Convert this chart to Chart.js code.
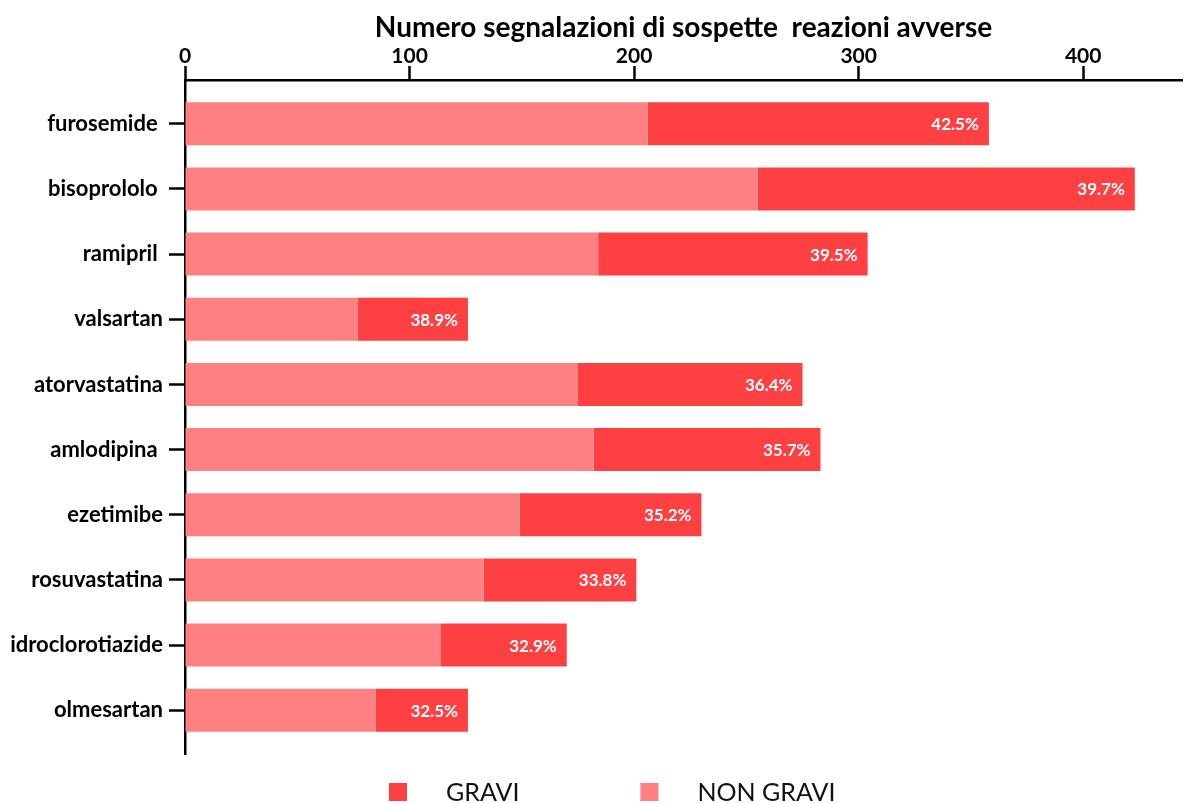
<!DOCTYPE html>
<html>
<head>
<meta charset="utf-8">
<script src="https://cdn.jsdelivr.net/npm/chart.js@4.4.1/dist/chart.umd.min.js"></script>
<style>
  html, body { margin: 0; padding: 0; background: #fff; }
  #wrap { width: 1184px; height: 803px; }
</style>
</head>
<body>
<div id="wrap"><canvas id="c" width="1184" height="803"></canvas></div>
<script>
// Farmaci e numero di segnalazioni (non gravi / gravi)
const farmaci = ['furosemide ', 'bisoprololo ', 'ramipril ', 'valsartan', 'atorvastatina',
                 'amlodipina ', 'ezetimibe', 'rosuvastatina', 'idroclorotiazide', 'olmesartan'];
const nonGravi = [206, 255, 184, 77, 175, 182, 149, 133, 114, 85];
const gravi    = [152, 168, 120, 49, 100, 101, 81, 68, 56, 41];
const xTicks = [0, 100, 200, 300, 400];
const xMax = 444;
const nomiSerie = ['NON GRAVI', 'GRAVI'];
const titoloAsse = 'Numero segnalazioni di sospette  reazioni avverse';

const COL_NON_GRAVI = '#ff8080';
const COL_GRAVI = '#ff4043';
const FONT = 'Lato';

// Extra room above the first and below the last category (fraction of a category)
const edgePad = {
  id: 'edgePad',
  afterLayout(chart) {
    const s = chart.scales.y;
    const pad = 0.172;
    s._startValue -= pad;
    s._valueRange += 2 * pad;
  }
};

// Percentage of serious reports, written inside the end of each bar
const pctLabels = {
  id: 'pctLabels',
  afterDatasetsDraw(chart) {
    const ctx = chart.ctx;
    const meta = chart.getDatasetMeta(1);
    ctx.save();
    ctx.font = 'bold 17px ' + FONT;
    ctx.fillStyle = '#ffffff';
    ctx.textAlign = 'right';
    ctx.textBaseline = 'middle';
    meta.data.forEach((bar, i) => {
      const tot = nonGravi[i] + gravi[i];
      const txt = (gravi[i] / tot * 100).toFixed(1) + '%';
      ctx.fillText(txt, bar.x - 10, bar.y + 1);
    });
    ctx.restore();
  }
};

// Legend below the plot: GRAVI first, then NON GRAVI
const legendBottom = {
  id: 'legendBottom',
  afterDraw(chart) {
    const ctx = chart.ctx;
    const items = [1, 0].map(i => chart.data.datasets[i]);
    ctx.save();
    ctx.font = '25px ' + FONT;
    ctx.textBaseline = 'alphabetic';
    ctx.textAlign = 'left';
    const box = 18, gap = 39, itemGap = 121, base = 801;
    let x = 389;
    items.forEach(ds => {
      ctx.fillStyle = ds.backgroundColor;
      ctx.fillRect(x, base - 18, box, box);
      x += box + gap;
      ctx.fillStyle = '#111';
      ctx.fillText(ds.label, x, base);
      x += ctx.measureText(ds.label).width + itemGap;
    });
    ctx.restore();
  }
};

new Chart(document.getElementById('c'), {
  type: 'bar',
  data: {
    labels: farmaci,
    datasets: [
      { label: nomiSerie[0], data: nonGravi, backgroundColor: COL_NON_GRAVI },
      { label: nomiSerie[1], data: gravi, backgroundColor: COL_GRAVI }
    ]
  },
  options: {
    indexAxis: 'y',
    responsive: false,
    animation: false,
    layout: { padding: { top: 0, left: 0, right: 2, bottom: 49 } },
    datasets: { bar: { categoryPercentage: 1, barPercentage: 0.66, borderWidth: 0 } },
    plugins: { legend: { display: false }, title: { display: false }, tooltip: { enabled: false } },
    scales: {
      x: {
        type: 'linear',
        position: 'top',
        stacked: true,
        min: 0,
        max: xMax,
        afterBuildTicks(s) { s.ticks = xTicks.map(v => ({ value: v })); },
        afterFit(s) { s.height = 80; },
        grid: { display: true, drawOnChartArea: false, drawTicks: true, tickLength: 14, tickWidth: 2.5, tickColor: '#000', offset: false },
        border: { display: true, color: '#000', width: 2.5 },
        ticks: { font: { family: FONT, weight: 'bold', size: 21 }, color: '#000', padding: -3, maxRotation: 0 },
        title: {
          display: true,
          text: titoloAsse,
          font: { family: FONT, weight: 'bold', size: 28 },
          color: '#000',
          padding: { top: 11, bottom: 0 }
        }
      },
      y: {
        type: 'category',
        stacked: true,
        afterFit(s) { s.width = 185; },
        grid: { display: true, drawOnChartArea: false, drawTicks: true, tickLength: 16, tickWidth: 2.5, tickColor: '#000', offset: false },
        border: { display: true, color: '#000', width: 2.5 },
        ticks: { font: { family: FONT, weight: 'bold', size: 22 }, color: '#000', padding: 6, autoSkip: false }
      }
    }
  },
  plugins: [edgePad, pctLabels, legendBottom]
});
</script>
</body>
</html>
